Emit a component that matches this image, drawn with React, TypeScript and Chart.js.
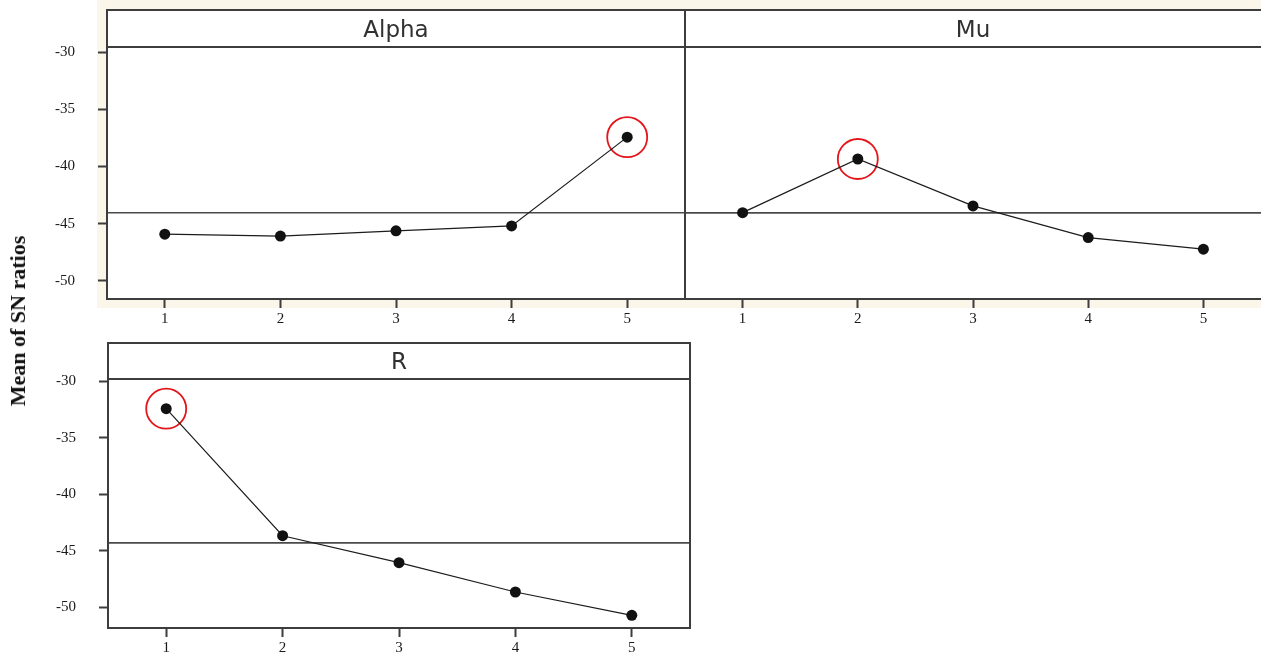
import React, { useEffect, useRef } from "react";
import { Chart, registerables } from "chart.js";

Chart.register(...registerables);

// ---- data ----
const LEVELS = [1, 2, 3, 4, 5];
const ALPHA_SN = [-45.92, -46.09, -45.63, -45.2, -37.44];
const MU_SN = [-44.04, -39.35, -43.45, -46.22, -47.23];
const R_SN = [-32.42, -43.68, -46.07, -48.67, -50.74];
const Y_TICKS = [-50, -45, -40, -35, -30];
const X_TICKS = [1, 2, 3, 4, 5];
const X_MIN = 0.5;
const X_MAX = 5.5;
const PANEL_TITLES = ["Alpha", "Mu", "R"];
const Y_TITLE = "Mean of SN ratios";

// ---- styles ----
const FRAME = "#3d3d3d";
const TICK_COLOR = "#1a1a1a";
const TICK_FONT = { family: '"Liberation Serif", "Times New Roman", serif', size: 15 };
const TITLE_FONT = '23px "DejaVu Sans", Verdana, sans-serif';

type PanelSpec = {
  title: string;
  values: number[];
  left: number;
  top: number;
  width: number;
  height: number;
  yAxisWidth: number;
  padLeft: number;
  padRight: number;
  padTop: number;
  xAxisHeight: number;
  stripTop: number;
  showY: boolean;
  rightBorder: boolean;
  yMin: number;
  yMax: number;
};

const PANELS: PanelSpec[] = [
  {
    title: PANEL_TITLES[0], values: ALPHA_SN,
    left: 0, top: 0, width: 690, height: 330,
    yAxisWidth: 107, padLeft: 0, padRight: 5, padTop: 47, xAxisHeight: 31, stripTop: 10,
    showY: true, rightBorder: true, yMin: -51.59, yMax: -29.56,
  },
  {
    title: PANEL_TITLES[1], values: MU_SN,
    left: 680, top: 0, width: 581, height: 330,
    yAxisWidth: 0, padLeft: 5, padRight: 0, padTop: 47, xAxisHeight: 31, stripTop: 10,
    showY: false, rightBorder: false, yMin: -51.59, yMax: -29.56,
  },
  {
    title: PANEL_TITLES[2], values: R_SN,
    left: 0, top: 330, width: 700, height: 322,
    yAxisWidth: 108, padLeft: 0, padRight: 10, padTop: 49, xAxisHeight: 24, stripTop: 13,
    showY: true, rightBorder: true, yMin: -51.86, yMax: -29.79,
  },
];

function framePlugin(spec: PanelSpec) {
  return {
    id: "panelFrame",
    beforeDraw(chart: any) {
      const { ctx, chartArea: a } = chart;
      const rightEnd = spec.rightBorder ? a.right : chart.width;
      ctx.save();
      ctx.fillStyle = "#ffffff";
      ctx.fillRect(a.left, spec.stripTop, rightEnd - a.left, a.bottom - spec.stripTop);
      ctx.restore();
    },
    afterDraw(chart: any) {
      const { ctx, chartArea: a } = chart;
      const rightEnd = spec.rightBorder ? a.right : chart.width;
      ctx.save();
      ctx.strokeStyle = FRAME;
      ctx.lineWidth = 2;
      ctx.lineCap = "square";
      ctx.beginPath();
      ctx.moveTo(a.left, spec.stripTop);
      ctx.lineTo(rightEnd, spec.stripTop);
      ctx.moveTo(a.left, a.top);
      ctx.lineTo(rightEnd, a.top);
      ctx.moveTo(a.left, spec.stripTop);
      ctx.lineTo(a.left, a.bottom);
      if (spec.rightBorder) {
        ctx.moveTo(a.right, spec.stripTop);
        ctx.lineTo(a.right, a.bottom);
      }
      ctx.stroke();
      // strip title
      ctx.font = TITLE_FONT;
      ctx.fillStyle = "#313131";
      ctx.textAlign = "center";
      ctx.textBaseline = "alphabetic";
      const cy = (spec.stripTop + a.top) / 2;
      ctx.fillText(spec.title, (a.left + rightEnd) / 2, cy + 8.4);
      ctx.restore();
    },
  };
}

function Panel({ spec }: { spec: PanelSpec }) {
  const ref = useRef<HTMLCanvasElement | null>(null);
  useEffect(() => {
    if (!ref.current) return;
    const vals = spec.values;
    const mean = vals.reduce((s, v) => s + v, 0) / vals.length;
    const best = vals.indexOf(Math.max(...vals));
    const chart = new Chart(ref.current, {
      type: "line",
      data: {
        datasets: [
          {
            data: LEVELS.map((x, i) => ({ x, y: vals[i] })),
            borderColor: "#1c1c1c",
            borderWidth: 1.2,
            pointRadius: 5.5,
            pointBackgroundColor: "#111111",
            pointBorderColor: "#111111",
            pointBorderWidth: 0,
            tension: 0,
          },
          {
            data: [{ x: LEVELS[best], y: vals[best] }],
            showLine: false,
            pointRadius: 20,
            pointBackgroundColor: "rgba(0,0,0,0)",
            pointBorderColor: "#e3161b",
            pointBorderWidth: 1.8,
            clip: false,
          },
          {
            data: [{ x: X_MIN, y: mean }, { x: X_MAX, y: mean }],
            borderColor: "#4a4a4a",
            borderWidth: 1.6,
            pointRadius: 0,
          },
        ],
      } as any,
      options: {
        animation: false,
        responsive: false,
        events: [],
        layout: {
          autoPadding: false,
          padding: { top: spec.padTop, left: spec.padLeft, right: spec.padRight, bottom: 0 },
        },
        plugins: { legend: { display: false }, tooltip: { enabled: false } },
        scales: {
          x: {
            type: "linear",
            min: X_MIN,
            max: X_MAX,
            afterBuildTicks: (s: any) => {
              s.ticks = X_TICKS.map((v) => ({ value: v }));
            },
            afterFit: (s: any) => {
              s.height = spec.xAxisHeight;
              s.paddingLeft = 0;
              s.paddingRight = 0;
              s.paddingTop = 0;
              s.paddingBottom = 0;
            },
            grid: { drawOnChartArea: false, drawTicks: true, tickLength: 9, tickWidth: 2, tickColor: FRAME, color: FRAME },
            border: { display: true, color: FRAME, width: 2 },
            ticks: {
              font: TICK_FONT,
              color: TICK_COLOR,
              padding: 2,
              autoSkip: false,
              maxRotation: 0,
              callback: (v: any) => String(v),
            },
          },
          y: {
            type: "linear",
            display: spec.showY,
            min: spec.yMin,
            max: spec.yMax,
            afterBuildTicks: (s: any) => {
              s.ticks = Y_TICKS.map((v) => ({ value: v }));
            },
            afterFit: (s: any) => {
              s.width = spec.yAxisWidth;
              s.paddingLeft = 0;
              s.paddingRight = 0;
              s.paddingTop = 0;
              s.paddingBottom = 0;
            },
            grid: { drawOnChartArea: false, drawTicks: true, tickLength: 9, tickWidth: 2, tickColor: FRAME, color: FRAME },
            border: { display: true, color: FRAME, width: 2 },
            ticks: {
              font: TICK_FONT,
              color: TICK_COLOR,
              padding: 23,
              autoSkip: false,
              callback: (v: any) => String(v),
            },
          },
        },
      } as any,
      plugins: [framePlugin(spec)],
    });
    return () => chart.destroy();
  }, [spec]);
  return (
    <canvas
      ref={ref}
      width={spec.width}
      height={spec.height}
      style={{ position: "absolute", left: spec.left, top: spec.top, width: spec.width, height: spec.height }}
    />
  );
}

export default function App() {
  return (
    <div
      style={{
        position: "absolute",
        left: 0,
        top: 0,
        width: 1261,
        height: 652,
        background: "#ffffff",
        overflow: "hidden",
      }}
    >
      <div style={{ position: "absolute", left: 97, top: 0, width: 1164, height: 308, background: "#faf6e9" }} />
      {PANELS.map((p) => (
        <Panel key={p.title} spec={p} />
      ))}
      <div
        style={{
          position: "absolute",
          left: 18,
          top: 321,
          transform: "translate(-50%, -50%) rotate(-90deg)",
          whiteSpace: "nowrap",
          fontFamily: '"Liberation Serif", "Times New Roman", serif',
          fontWeight: "bold",
          fontSize: 22,
          color: "#111",
        }}
      >
        {Y_TITLE}
      </div>
    </div>
  );
}
